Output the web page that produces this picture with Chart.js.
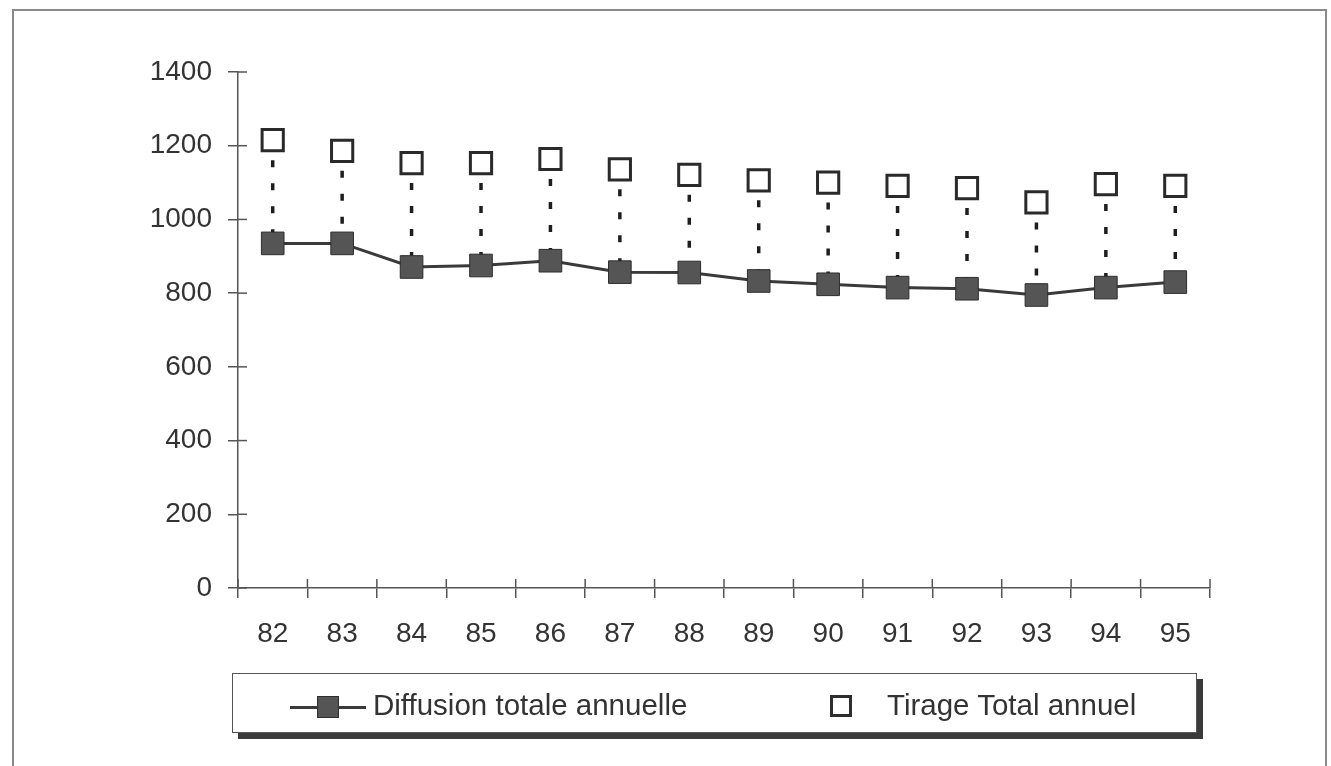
<!DOCTYPE html>
<html>
<head>
<meta charset="utf-8">
<script src="https://cdn.jsdelivr.net/npm/chart.js@4/dist/chart.umd.min.js"></script>
<style>
  html, body { margin: 0; padding: 0; background: #ffffff; }
  #wrap { position: relative; width: 1331px; height: 766px; overflow: hidden; background: #fff; }
  #frame { position: absolute; left: 12px; top: 9px; width: 1311px; height: 800px;
           border-left: 2px solid #8a8a8a; border-top: 2px solid #8a8a8a; border-right: 2px solid #8a8a8a; }
  #c { position: absolute; left: 0; top: 0; }
  #legend { position: absolute; left: 232px; top: 673px; width: 963px; height: 58px;
            border: 1.5px solid #555; background: #fff; box-shadow: 6px 6px 0 #3a3a3a;
            font-family: "Liberation Sans", Arial, sans-serif; font-size: 29.5px; color: #333; }
  .lbl { position: absolute; white-space: nowrap; line-height: 1; transform: translateY(-50%); }
  .ln { position: absolute; height: 3px; background: #3a3a3a; }
  .sq { position: absolute; box-sizing: border-box; }
</style>
</head>
<body>
<div id="wrap">
  <div id="frame"></div>
  <canvas id="c" width="1331" height="766"></canvas>
  <div id="legend"></div>
</div>
<script>
// ---- data ----
const years = ["82","83","84","85","86","87","88","89","90","91","92","93","94","95"];
const diffusion = [935, 935, 871, 875, 888, 857, 856, 833, 824, 815, 812, 795, 815, 830];
const tirage = [1215, 1186, 1153, 1153, 1164, 1136, 1121, 1106, 1100, 1091, 1085, 1046, 1096, 1091];
const seriesNames = ["Diffusion totale annuelle", "Tirage Total annuel"];
const yMin = 0, yMax = 1400, yStep = 200;

const FONT = "'Liberation Sans', Arial, sans-serif";
const AXIS = "#555";

// dashed drop lines between the two series, plus inward tick halves
const dropLines = {
  id: 'dropLines',
  beforeDatasetsDraw(chart) {
    const ctx = chart.ctx;
    const m0 = chart.getDatasetMeta(0), m1 = chart.getDatasetMeta(1);
    ctx.save();
    ctx.strokeStyle = '#1e1e1e';
    ctx.lineWidth = 3.5;
    ctx.setLineDash([7, 16]);
    ctx.lineDashOffset = 3;
    m1.data.forEach((pt, i) => {
      const low = m0.data[i];
      if (!low) return;
      ctx.beginPath();
      ctx.moveTo(pt.x, pt.y);
      ctx.lineTo(low.x, low.y);
      ctx.stroke();
    });
    ctx.restore();
  },
  afterDraw(chart) {
    const ctx = chart.ctx, xs = chart.scales.x, ys = chart.scales.y;
    ctx.save();
    ctx.strokeStyle = AXIS;
    ctx.lineWidth = 1.5;
    ys.ticks.forEach((t, i) => {
      const y = ys.getPixelForTick(i);
      ctx.beginPath(); ctx.moveTo(ys.right, y); ctx.lineTo(ys.right + 9, y); ctx.stroke();
    });
    for (let i = 0; i <= xs.ticks.length; i++) {
      const x = xs.getPixelForValue(i - 0.5);
      ctx.beginPath(); ctx.moveTo(x, xs.top); ctx.lineTo(x, xs.top - 9); ctx.stroke();
    }
    ctx.restore();
  }
};

const htmlLegend = {
  id: 'htmlLegend',
  afterUpdate(chart) {
    const box = document.getElementById('legend');
    box.innerHTML = '';
    const ds = chart.data.datasets;
    box.innerHTML =
      '<div class="ln" style="left:57px;top:32px;width:76px;"></div>' +
      '<div class="sq" style="left:84px;top:22px;width:22px;height:22px;background:#555;border:1px solid #2e2e2e;"></div>' +
      '<div class="lbl" style="left:140px;top:31px;">' + ds[0].label + '</div>' +
      '<div class="sq" style="left:597px;top:21px;width:22px;height:22px;background:#fff;border:3px solid #2e2e2e;"></div>' +
      '<div class="lbl" style="left:654px;top:31px;">' + ds[1].label + '</div>';
  }
};

new Chart(document.getElementById('c'), {
  type: 'line',
  data: {
    labels: years,
    datasets: [
      {
        label: seriesNames[0],
        data: diffusion,
        borderColor: '#3a3a3a',
        borderWidth: 3,
        tension: 0,
        pointStyle: 'rect',
        pointRadius: 16,
        pointHoverRadius: 16,
        pointBackgroundColor: '#555555',
        pointBorderColor: '#2e2e2e',
        pointBorderWidth: 1
      },
      {
        label: seriesNames[1],
        data: tirage,
        showLine: false,
        pointStyle: 'rect',
        pointRadius: 15,
        pointHoverRadius: 15,
        pointBackgroundColor: '#ffffff',
        pointBorderColor: '#2a2a2a',
        pointBorderWidth: 3
      }
    ]
  },
  options: {
    responsive: false,
    animation: false,
    events: [],
    layout: { padding: { top: 72, right: 121, left: 0, bottom: 0 } },
    plugins: { legend: { display: false }, tooltip: { enabled: false } },
    scales: {
      x: {
        offset: true,
        afterFit(s) { s.height = 178; },
        grid: { offset: true, drawOnChartArea: false, tickLength: 10, color: AXIS, lineWidth: 1.5 },
        border: { color: AXIS, width: 1.5 },
        ticks: { color: '#333', padding: 19, font: { family: FONT, size: 28 }, maxRotation: 0 }
      },
      y: {
        min: yMin, max: yMax,
        afterFit(s) { s.width = 238; },
        grid: { drawOnChartArea: false, tickLength: 10, color: AXIS, lineWidth: 1.5 },
        border: { color: AXIS, width: 1.5 },
        ticks: { stepSize: yStep, color: '#333', padding: 16, font: { family: FONT, size: 28 },
                 callback: v => String(v) }
      }
    }
  },
  plugins: [dropLines, htmlLegend]
});
</script>
</body>
</html>
